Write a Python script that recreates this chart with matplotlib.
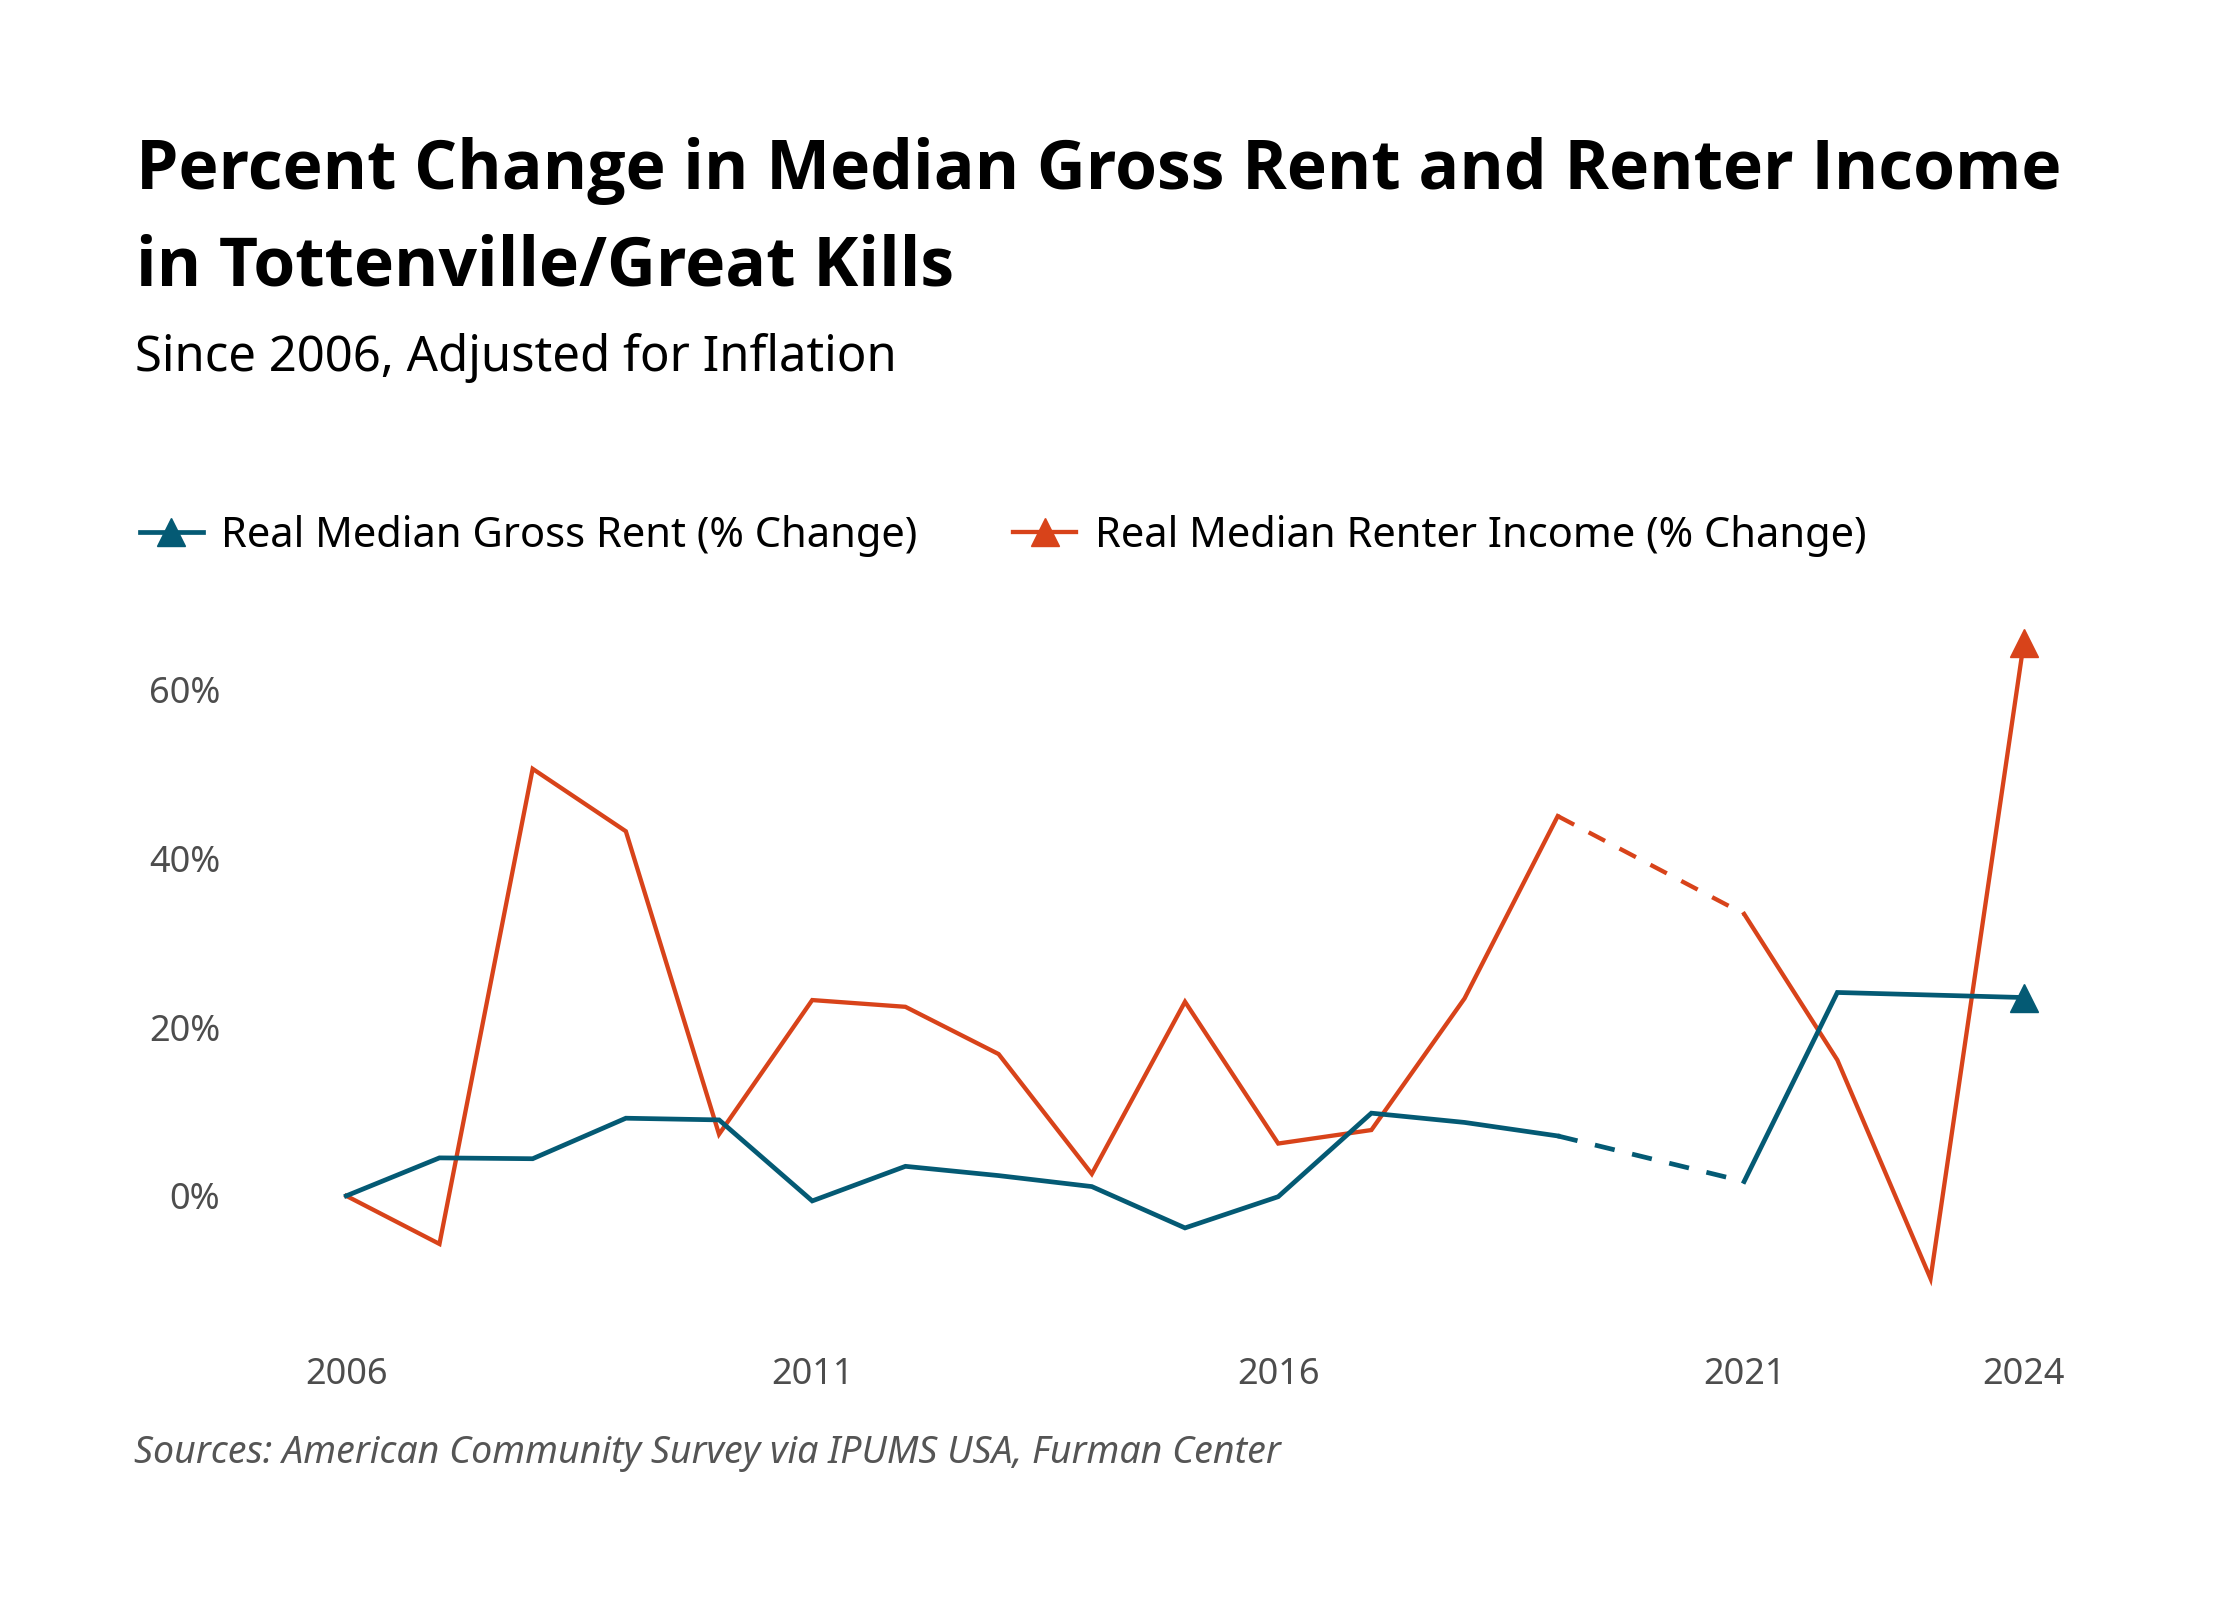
import numpy as np
import matplotlib
matplotlib.use("Agg")
import matplotlib.pyplot as plt
from matplotlib.lines import Line2D

# ---------------------------------------------------------------------------
# Data (% change since 2006, 2020 missing)
# ---------------------------------------------------------------------------
years = np.arange(2006, 2025)
rent_pct = [0.0, 4.5, 4.4, 9.2, 9.0, -0.6, 3.5, 2.4, 1.1, -3.8,
            -0.1, 9.8, 8.7, 7.1, np.nan, 1.7, 24.1, 23.8, 23.5]
income_pct = [0.0, -5.7, 50.6, 43.2, 7.3, 23.2, 22.4, 16.8, 2.6, 23.0,
              6.2, 7.8, 23.4, 45.0, np.nan, 33.4, 16.1, -9.8, 65.5]

series_labels = ["Real Median Gross Rent (% Change)",
                 "Real Median Renter Income (% Change)"]
x_ticks = [2006, 2011, 2016, 2021, 2024]
y_ticks = [0, 20, 40, 60]

title_lines = ["Percent Change in Median Gross Rent and Renter Income",
               "in Tottenville/Great Kills"]
subtitle = "Since 2006, Adjusted for Inflation"
source = "Sources: American Community Survey via IPUMS USA, Furman Center"

BLUE = "#045a74"
ORANGE = "#d8431a"
GREY = "#4d4d4d"
FONT = "Noto Sans"
TITLE_FONT = "Open Sans"

plt.rcParams["font.family"] = [FONT, "DejaVu Sans"]

W, H = 2240, 1600
fig = plt.figure(figsize=(W / 100, H / 100), dpi=100)

# axes placed so that 2006 -> x=346px, 0% -> y=1196px
ax = fig.add_axes([309 / W, (H - 1314) / H, 1752 / W, 692 / H])
ax.set_xlim(2005.6, 2024.4)
ax.set_ylim(-14, 68)


def draw_series(values, color, lw):
    vals = np.asarray(values, dtype=float)
    ax.plot(years, vals, color=color, lw=lw, solid_joinstyle="miter",
            marker="^", markevery=[len(vals) - 1], ms=20, zorder=3)
    # dashed bridge over the missing year(s)
    gap = np.where(np.isnan(vals))[0]
    for g in gap:
        ax.plot([years[g - 1], years[g + 1]], [vals[g - 1], vals[g + 1]],
                color=color, lw=lw, linestyle=(0, (4.3, 3.8)), zorder=3)


draw_series(income_pct, ORANGE, 3.1)
draw_series(rent_pct, BLUE, 3.4)

for s in ax.spines.values():
    s.set_visible(False)
ax.set_xticks(x_ticks)
ax.set_xticklabels([str(t) for t in x_ticks])
ax.set_yticks(y_ticks)
ax.set_yticklabels([f"{t}%" for t in y_ticks])
ax.tick_params(axis="y", length=0, pad=64, labelsize=26, labelcolor=GREY)
ax.tick_params(axis="x", length=0, pad=31, labelsize=26, labelcolor=GREY)

# --- legend ---
handles = [
    Line2D([], [], color=BLUE, lw=3.4, marker="^", ms=20),
    Line2D([], [], color=ORANGE, lw=3.1, marker="^", ms=20),
]
fig.legend(handles, series_labels, loc="center left",
           bbox_to_anchor=(140 / W, 0.665), ncol=2, frameon=False,
           fontsize=30, handlelength=1.5, handletextpad=0.45,
           columnspacing=2.3, borderpad=0, borderaxespad=0, numpoints=1)

# --- titles and source ---
fig.text(136 / W, (H - 189) / H, title_lines[0], fontsize=48.8,
         family=[TITLE_FONT, "DejaVu Sans"], fontweight="bold",
         va="baseline", ha="left")
fig.text(136 / W, (H - 285) / H, title_lines[1], fontsize=48.8,
         family=[TITLE_FONT, "DejaVu Sans"], fontweight="bold",
         va="baseline", ha="left")
fig.text(135 / W, (H - 371) / H, subtitle, fontsize=35.3,
         va="baseline", ha="left")
fig.text(134 / W, (H - 1463) / H, source, fontsize=27, style="italic",
         color="#555555", va="baseline", ha="left")

fig.savefig("out.png", dpi=100, facecolor="white")
